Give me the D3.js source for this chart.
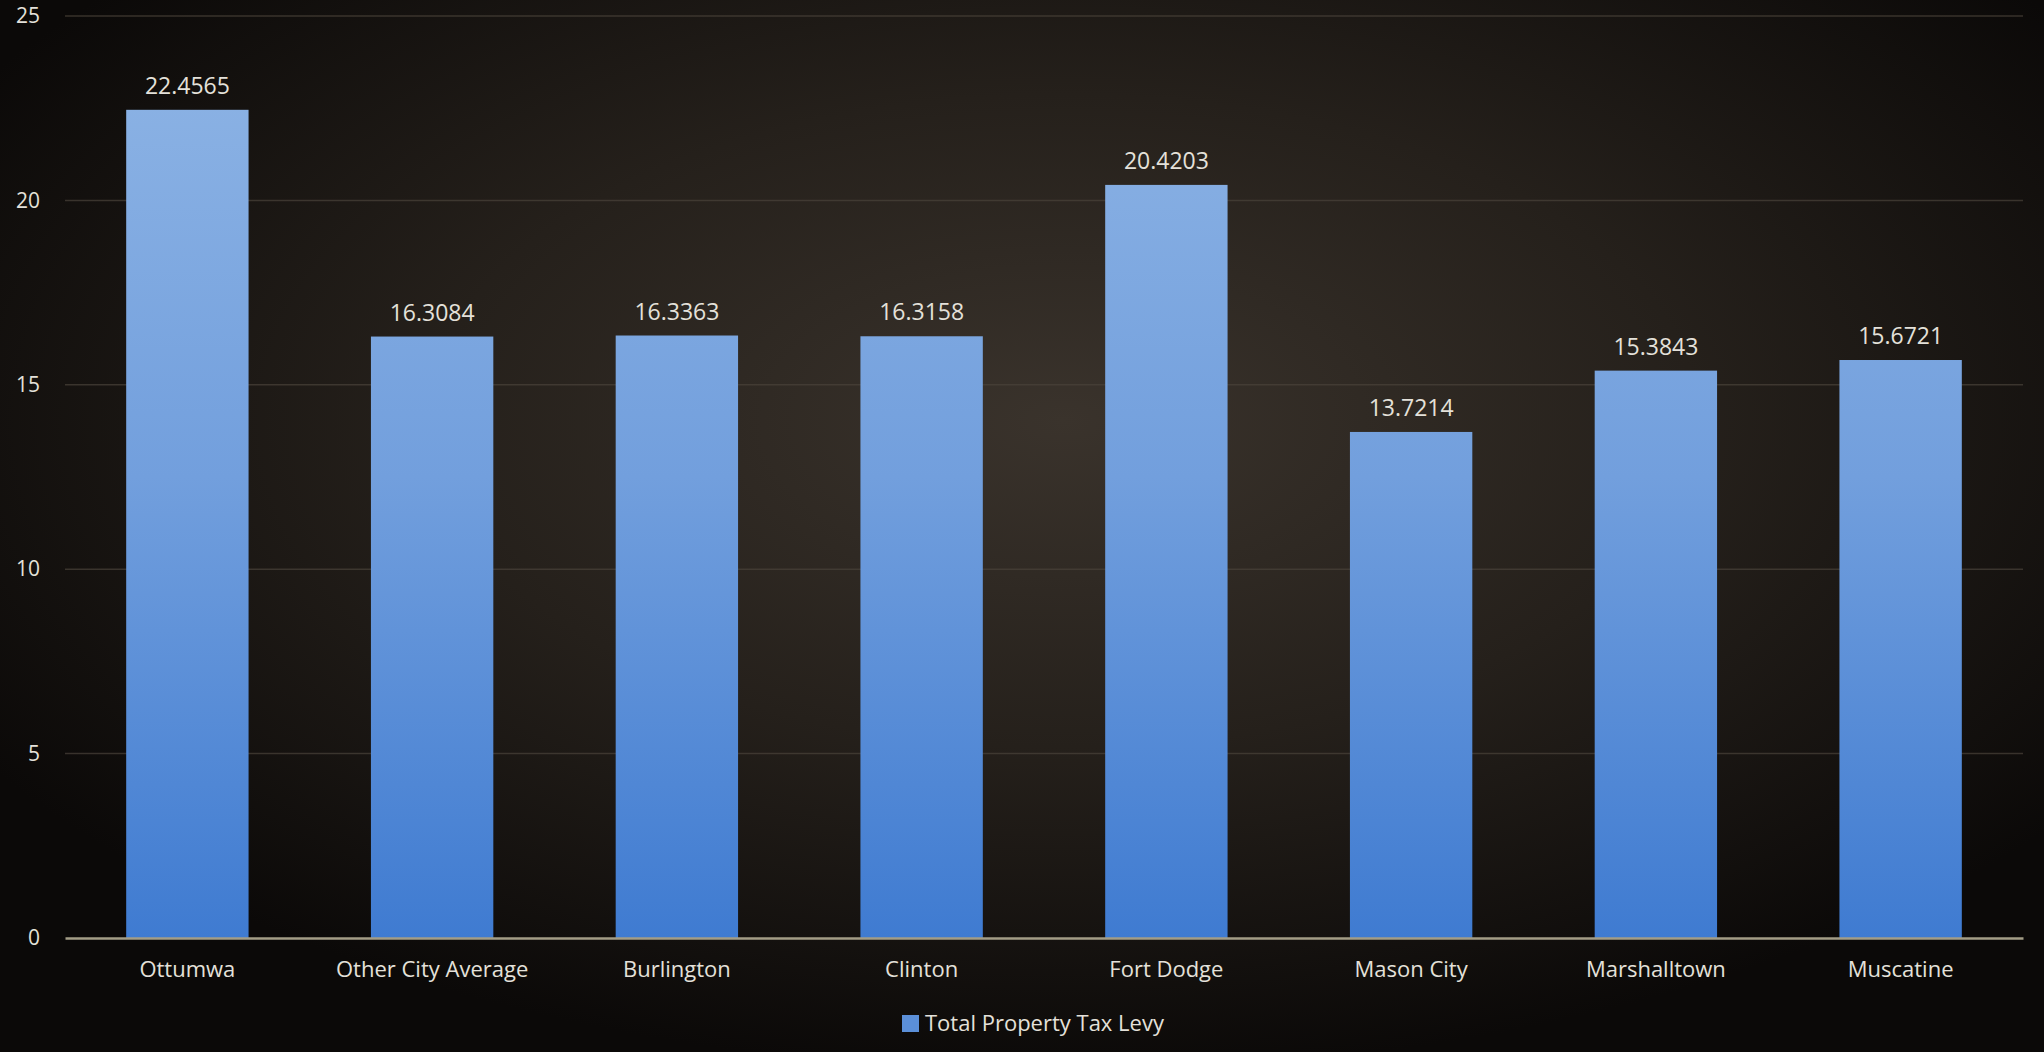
<!DOCTYPE html>
<html>
<head>
<meta charset="utf-8">
<script src="https://cdn.jsdelivr.net/npm/d3@7"></script>
<style>
    html, body { margin: 0; padding: 0; background: #0c0a08; }
    svg { display: block; }
    .tick-label, .cat-label, .value-label, .legend-text {
        font-family: "Open Sans", sans-serif;
        fill: #e4e1da;
    }
</style>
</head>
<body>
<script>
const cities = ["Ottumwa", "Other City Average", "Burlington", "Clinton", "Fort Dodge", "Mason City", "Marshalltown", "Muscatine"]
const levy = [22.4565, 16.3084, 16.3363, 16.3158, 20.4203, 13.7214, 15.3843, 15.6721]
const yTicks = [0, 5, 10, 15, 20, 25]
const seriesName = "Total Property Tax Levy"

const WIDTH = 2044
const HEIGHT = 1052

const PADDING = {
    left: 65,
    right: 21,
    top: 16,
    bottom: 114
}

const svg = d3.select("body")
    .append("svg")
    .attr("width", WIDTH)
    .attr("height", HEIGHT)

const defs = svg.append("defs")

const bg = defs.append("radialGradient")
    .attr("id", "bg")
    .attr("cx", "0.52").attr("cy", "0.4")
    .attr("r", "0.62")
bg.append("stop").attr("offset", "0%").attr("stop-color", "#3a332c")
bg.append("stop").attr("offset", "50%").attr("stop-color", "#25201b")
bg.append("stop").attr("offset", "100%").attr("stop-color", "#0b0908")

const barFill = defs.append("linearGradient")
    .attr("id", "barFill")
    .attr("gradientUnits", "userSpaceOnUse")
    .attr("x1", 0).attr("y1", PADDING.top)
    .attr("x2", 0).attr("y2", HEIGHT - PADDING.bottom)
barFill.append("stop").attr("offset", "0%").attr("stop-color", "#8fb5e5")
barFill.append("stop").attr("offset", "50%").attr("stop-color", "#729fdd")
barFill.append("stop").attr("offset", "100%").attr("stop-color", "#3f7bd1")

svg.append("rect")
    .attr("width", WIDTH)
    .attr("height", HEIGHT)
    .attr("fill", "url(#bg)")

const xScale = d3.scaleBand()
    .domain(cities)
    .range([PADDING.left, WIDTH - PADDING.right])
    .paddingInner(0.5)
    .paddingOuter(0.25)

const yScale = d3.scaleLinear()
    .domain([0, 25])
    .range([HEIGHT - PADDING.bottom, PADDING.top])

// gridlines
svg.append("g")
    .selectAll("line")
    .data(yTicks.filter(d => d > 0))
    .enter()
    .append("line")
    .attr("x1", PADDING.left)
    .attr("x2", WIDTH - PADDING.right)
    .attr("y1", d => yScale(d))
    .attr("y2", d => yScale(d))
    .attr("stroke", "#4a433a")
    .attr("stroke-opacity", 0.7)
    .attr("stroke-width", 1.5)

// y tick labels
const yAxis = d3.axisLeft(yScale)
    .tickValues(yTicks)
    .tickSize(0)
    .tickPadding(25)

svg.append("g")
    .attr("transform", "translate(" + PADDING.left + ", 0)")
    .call(yAxis)
    .call(g => g.select(".domain").remove())
    .call(g => g.selectAll("text")
        .attr("class", "tick-label")
        .attr("fill", null)
        .style("font-size", "21px"))

// bars
svg.selectAll(".bar")
    .data(levy)
    .enter()
    .append("rect")
    .attr("class", "bar")
    .attr("x", (d, i) => xScale(cities[i]))
    .attr("y", d => yScale(d))
    .attr("width", xScale.bandwidth())
    .attr("height", d => yScale(0) - yScale(d))
    .attr("fill", "url(#barFill)")

// value labels
svg.selectAll(".value-label")
    .data(levy)
    .enter()
    .append("text")
    .attr("class", "value-label")
    .attr("x", (d, i) => xScale(cities[i]) + xScale.bandwidth() / 2)
    .attr("y", d => yScale(d) - 16)
    .attr("text-anchor", "middle")
    .style("font-size", "23px")
    .text(d => d.toFixed(4))

// x axis
const xAxis = d3.axisBottom(xScale)
    .tickSize(0)
    .tickPadding(23)

svg.append("g")
    .attr("transform", "translate(0, " + yScale(0) + ")")
    .call(xAxis)
    .call(g => g.select(".domain")
        .attr("stroke", "#a39d86")
        .attr("stroke-width", 2.5))
    .call(g => g.selectAll("text")
        .attr("class", "cat-label")
        .attr("fill", null)
        .style("font-size", "22px"))

// legend
const legend = svg.append("g")
    .attr("transform", "translate(902, 1015)")

legend.append("rect")
    .attr("width", 17)
    .attr("height", 17)
    .attr("fill", "#5b8fd8")

legend.append("text")
    .attr("class", "legend-text")
    .attr("x", 23)
    .attr("y", 16)
    .style("font-size", "22px")
    .text(seriesName)
</script>
</body>
</html>
